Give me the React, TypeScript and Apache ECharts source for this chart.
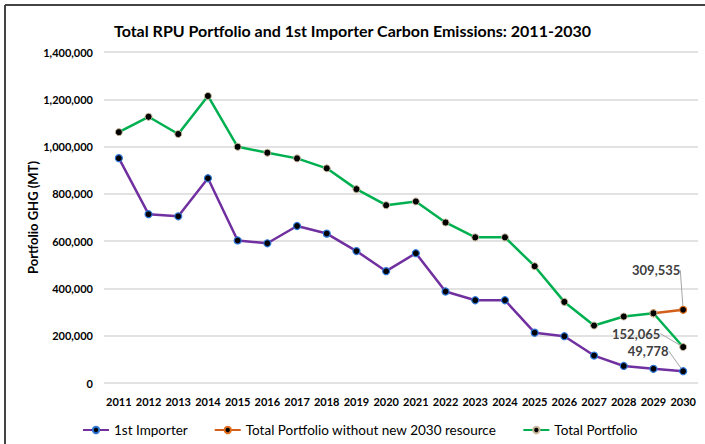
import React, { useEffect, useRef } from "react";
import * as echarts from "echarts";

const years = ["2011","2012","2013","2014","2015","2016","2017","2018","2019","2020","2021","2022","2023","2024","2025","2026","2027","2028","2029","2030"];
const importer = [951000, 714000, 705000, 866000, 603000, 591000, 664000, 632000, 558000, 473000, 549000, 387000, 350000, 350000, 213000, 198000, 116000, 72000, 60000, 49778];
const totalPortfolio = [1061000, 1126000, 1053000, 1214000, 999000, 974000, 950000, 908000, 820000, 752000, 768000, 679000, 616000, 616000, 494000, 343000, 243000, 281000, 295000, 152065];
const withoutNew = [null, null, null, null, null, null, null, null, null, null, null, null, null, null, null, null, null, null, 295000, 309535];
const yTicks = [0, 200000, 400000, 600000, 800000, 1000000, 1200000, 1400000];

const FONT = "Lato, 'Noto Sans', sans-serif";

export default function App() {
  const ref = useRef<HTMLDivElement>(null);
  useEffect(() => {
    document.body.style.margin = "0";
    const chart = echarts.init(ref.current!, null, { renderer: "svg" });
    const lastIdx = years.length - 1;
    const labelStyle = {
      fontFamily: FONT,
      fontSize: 13,
      fontWeight: "bold" as const,
      color: "#404040",
    };
    const fmt = (p: any) => Number(p.value).toLocaleString("en-US");
    chart.setOption({
      animation: false,
      backgroundColor: "#fff",
      title: {
        text: "Total RPU Portfolio and 1st Importer Carbon Emissions: 2011-2030",
        left: "center",
        top: 17,
        textStyle: { fontFamily: FONT, fontSize: 16, fontWeight: "bold", color: "#000" },
      },
      graphic: [
        { type: "line", shape: { x1: 5, y1: 5, x2: 705, y2: 5 }, style: { stroke: "#444", lineWidth: 2 } },
        { type: "line", shape: { x1: 5, y1: 5, x2: 5, y2: 444 }, style: { stroke: "#444", lineWidth: 2 } },
      ],
      grid: { left: 104, right: 7, top: 52, bottom: 61, containLabel: false },
      legend: {
        top: 418,
        left: 77,
        itemGap: 26,
        itemWidth: 26,
        itemHeight: 8,
        width: 640,
        textStyle: { fontFamily: FONT, fontSize: 13.5, fontWeight: "normal", color: "#000" },
        data: ["1st Importer", "Total Portfolio without new 2030 resource", "Total Portfolio"],
      },
      xAxis: {
        type: "category",
        data: years,
        boundaryGap: true,
        axisLine: { show: false },
        axisTick: { show: false },
        axisLabel: { fontFamily: FONT, fontSize: 11, fontWeight: "bold", color: "#000", margin: 13, interval: 0 },
      },
      yAxis: {
        type: "value",
        min: yTicks[0],
        max: yTicks[yTicks.length - 1],
        interval: 200000,
        name: "Portfolio GHG (MT)",
        nameLocation: "middle",
        nameGap: 65,
        nameMoveOverlap: false,
        nameTextStyle: { fontFamily: FONT, fontSize: 13, fontWeight: "bold", color: "#000" },
        axisLabel: {
          fontFamily: FONT,
          fontSize: 11,
          fontWeight: "bold",
          color: "#000",
          margin: 11,
          formatter: (v: number) => v.toLocaleString("en-US"),
        },
        splitLine: { lineStyle: { color: "#d9d9d9", width: 1.5 } },
      },
      series: [
        {
          name: "1st Importer",
          type: "line",
          data: importer.map((v, i) =>
            i === lastIdx ? { value: v, label: { show: true, ...labelStyle, formatter: fmt } } : v
          ),
          symbol: "circle",
          symbolSize: 7,
          itemStyle: { color: "#000", borderColor: "#2E75D6", borderWidth: 1.2 },
          lineStyle: { color: "#7030A0", width: 2.5 },
          color: "#7030A0",
          z: 3,
          labelLine: { show: true, lineStyle: { color: "#a6a6a6", width: 1 } },
          labelLayout: { dx: -35, dy: -5 },
        },
        {
          name: "Total Portfolio without new 2030 resource",
          type: "line",
          data: withoutNew.map((v, i) =>
            i === lastIdx ? { value: v, label: { show: true, ...labelStyle, formatter: fmt } } : v
          ),
          symbol: "circle",
          symbolSize: 7,
          itemStyle: { color: "#000", borderColor: "#E07020", borderWidth: 1.2 },
          lineStyle: { color: "#D2601A", width: 2.5 },
          color: "#D2601A",
          z: 2,
          labelLine: { show: true, lineStyle: { color: "#a6a6a6", width: 1 } },
          labelLayout: { dx: -27, dy: -24 },
        },
        {
          name: "Total Portfolio",
          type: "line",
          data: totalPortfolio.map((v, i) =>
            i === lastIdx ? { value: v, label: { show: true, ...labelStyle, formatter: fmt } } : v
          ),
          symbol: "circle",
          symbolSize: 7,
          itemStyle: { color: "#000", borderColor: "#c8b89a", borderWidth: 1 },
          lineStyle: { color: "#00B050", width: 2.5 },
          color: "#00B050",
          z: 4,
          labelLine: { show: true, lineStyle: { color: "#a6a6a6", width: 1 } },
          labelLayout: { dx: -47, dy: 2 },
        },
      ],
    });
    return () => chart.dispose();
  }, []);
  return <div ref={ref} style={{ width: 705, height: 444, position: "absolute", left: 0, top: 0 }} />;
}
